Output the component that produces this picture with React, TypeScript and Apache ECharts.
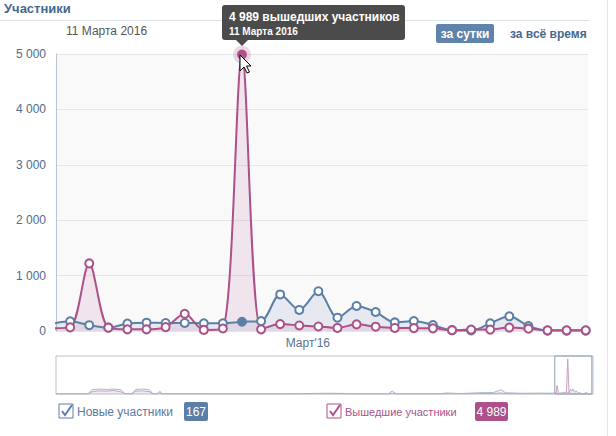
import React, { useEffect, useRef } from "react";
import * as echarts from "echarts";

// Days of March 2016 (day 1 sits just outside the visible window)
const days = [1, 2, 3, 4, 5, 6, 7, 8, 9, 10, 11, 12, 13, 14, 15, 16, 17, 18, 19, 20, 21, 22, 23, 24, 25, 26, 27, 28, 29];
const newMembers = [125, 175, 105, 60, 135, 150, 145, 145, 140, 140, 167, 178, 660, 380, 718, 240, 452, 343, 155, 180, 108, 15, 10, 138, 265, 90, 8, 8, 8];
const leftMembers = [50, 65, 1220, 60, 30, 30, 70, 310, 20, 45, 4989, 30, 125, 100, 82, 55, 120, 78, 55, 52, 48, 15, 25, 25, 62, 42, 12, 12, 12];

// Navigator history (days relative to 1 March 2016)
const navHistDays = [-374, -350, -347, -342, -336, -331, -325, -322, -317, -314, -309, -304, -301, -298, -296, -294, -200, -180, -170, -157, -150, -124, -121, -118, -85, -80, -70, -55, -45, -39, -36, -25, -10, -2, 0];
const navHistNew = [0, 20, 600, 700, 650, 700, 600, 20, 20, 650, 700, 650, 20, 30, 400, 30, 10, 80, 100, 80, 10, 10, 450, 10, 20, 150, 60, 180, 200, 600, 180, 100, 120, 100, 120];
const navHistLeft = [0, 10, 300, 450, 400, 500, 300, 10, 10, 400, 450, 350, 10, 10, 150, 10, 5, 20, 30, 20, 5, 5, 100, 5, 10, 40, 20, 50, 60, 150, 40, 30, 40, 30, 40];

const yTicks = { min: 0, max: 5000, step: 1000 };
const monthLabel = "Март'16";
const monthLabelDay = 14.45;
const hoverDay = 11;
const monthGenitive = "Марта";
const year = 2016;
const viewMin = 1.26;
const viewMax = 29.12;

const BLUE = "#5b7fa6";
const PINK = "#ac5189";
const FONT = 'Tahoma, "Liberation Sans", Arial, sans-serif';

const fmt = (v: number) => String(v).replace(/\B(?=(\d{3})+(?!\d))/g, " ");

export default function App() {
  const ref = useRef<HTMLDivElement>(null);
  useEffect(() => {
    if (!ref.current) return;
    const chart = echarts.init(ref.current, undefined, { renderer: "svg" });
    const hi = days.indexOf(hoverDay);
    const dateStr = `${hoverDay} ${monthGenitive} ${year}`;

    const blueData = days.map((d, i) =>
      i === hi ? { value: [d, newMembers[i]], itemStyle: { color: BLUE } } : [d, newMembers[i]]
    );
    const pinkData = days.map((d, i) =>
      i === hi ? { value: [d, leftMembers[i]], itemStyle: { color: PINK } } : [d, leftMembers[i]]
    );
    const navDays = navHistDays.concat(days);
    const navNew = navHistNew.concat(newMembers);
    const navLeft = navHistLeft.concat(leftMembers);

    const checkbox = (x: number, y: number, color: string) => [
      { type: "rect", shape: { x, y, width: 14, height: 14 }, style: { fill: "#fff", stroke: color, lineWidth: 1 } },
      { type: "polyline", shape: { points: [[x + 3, y + 7], [x + 6, y + 11], [x + 13, y + 1]] }, style: { stroke: color, lineWidth: 2, fill: null } },
    ];

    chart.setOption({
      animation: false,
      textStyle: { fontFamily: FONT },
      grid: [
        { left: 56, top: 54, right: 28, bottom: 105, show: true, backgroundColor: "#f9f9fa", borderWidth: 0 },
        { left: 56, top: 356, right: 23, height: 38, show: true, backgroundColor: "#fff", borderColor: "#b7c2ce", borderWidth: 1 },
      ],
      xAxis: [
        {
          type: "value", gridIndex: 0, min: viewMin, max: viewMax,
          axisLine: { show: false }, axisTick: { show: false }, splitLine: { show: false },
          axisLabel: { customValues: [monthLabelDay], formatter: () => monthLabel, color: "#5b7290", fontSize: 12, margin: 6, fontFamily: FONT },
        },
        { type: "value", gridIndex: 1, min: -374, max: 30, show: false },
      ],
      yAxis: [
        {
          type: "value", gridIndex: 0, min: yTicks.min, max: yTicks.max, interval: yTicks.step,
          axisLine: { show: true, lineStyle: { color: "#b9c4d0" } }, axisTick: { show: false },
          axisLabel: { formatter: (v: number) => fmt(v), color: "#526b88", fontSize: 12, margin: 10, fontFamily: FONT },
          splitLine: { lineStyle: { color: "#e3e6ea" } },
        },
        { type: "value", gridIndex: 1, min: 0, max: 5400, show: false },
      ],
      series: [
        {
          type: "line", xAxisIndex: 0, yAxisIndex: 0, data: blueData, smooth: 0.3,
          symbol: "circle", symbolSize: 8, showAllSymbol: true,
          itemStyle: { color: "#fff", borderColor: BLUE, borderWidth: 2 },
          lineStyle: { color: BLUE, width: 2 },
          areaStyle: { color: "rgba(91,127,166,0.16)" },
        },
        {
          type: "scatter", xAxisIndex: 0, yAxisIndex: 0, data: [[hoverDay, leftMembers[hi]]],
          symbolSize: 18, itemStyle: { color: "rgba(172,81,137,0.28)" }, silent: true,
        },
        {
          type: "line", xAxisIndex: 0, yAxisIndex: 0, data: pinkData, smooth: 0.3,
          symbol: "circle", symbolSize: 8, showAllSymbol: true,
          itemStyle: { color: "#fff", borderColor: PINK, borderWidth: 2 },
          lineStyle: { color: PINK, width: 2 },
          areaStyle: { color: "rgba(172,81,137,0.16)" },
        },
        {
          type: "line", xAxisIndex: 1, yAxisIndex: 1, data: navDays.map((d, i) => [d, navNew[i]]),
          symbol: "none", lineStyle: { color: "#a9b7c8", width: 1 }, areaStyle: { color: "rgba(169,183,200,0.15)" },
        },
        {
          type: "line", xAxisIndex: 1, yAxisIndex: 1, data: navDays.map((d, i) => [d, navLeft[i]]),
          symbol: "none", lineStyle: { color: "#c9a3bd", width: 1 }, areaStyle: { color: "rgba(195,122,168,0.12)" },
          markArea: {
            silent: true,
            itemStyle: { color: "rgba(0,0,0,0)", borderColor: "#8f9fb3", borderWidth: 1 },
            data: [[{ xAxis: viewMin }, { xAxis: viewMax }]],
          },
        },
      ],
      graphic: [
        { type: "line", shape: { x1: 607.5, y1: 0, x2: 607.5, y2: 436 }, style: { stroke: "#e4e6e9", lineWidth: 1 } },
        { type: "line", shape: { x1: 0, y1: 20.5, x2: 590, y2: 20.5 }, style: { stroke: "#dde3ea", lineWidth: 1 } },
        { type: "text", x: 4, y: 8, style: { text: "Участники", font: `bold 13px ${FONT}`, fill: "#45688e", textVerticalAlign: "middle" } },
        { type: "text", x: 66, y: 31, style: { text: dateStr, font: `12px ${FONT}`, fill: "#555", textVerticalAlign: "middle" } },
        { type: "rect", shape: { x: 436, y: 24, width: 58, height: 19, r: 2 }, style: { fill: "#5f83aa" } },
        { type: "text", x: 465, y: 34, style: { text: "за сутки", font: `bold 12px ${FONT}`, fill: "#fff", textAlign: "center", textVerticalAlign: "middle" } },
        { type: "text", x: 510, y: 34, style: { text: "за всё время", font: `bold 12px ${FONT}`, fill: "#45688e", textVerticalAlign: "middle" } },
        // tooltip
        { type: "rect", z: 100, shape: { x: 222, y: 5, width: 183, height: 35, r: 3 }, style: { fill: "#4b4b4b" } },
        { type: "polygon", z: 100, shape: { points: [[236, 40], [248, 40], [242, 46]] }, style: { fill: "#4b4b4b" } },
        { type: "text", z: 101, x: 229, y: 17, style: { text: `${fmt(leftMembers[hi])} вышедших участников`, font: `bold 12px ${FONT}`, fill: "#fff", textVerticalAlign: "middle" } },
        { type: "text", z: 101, x: 229, y: 31, style: { text: dateStr, font: `bold 10px ${FONT}`, fill: "#fff", textVerticalAlign: "middle" } },
        // cursor
        { type: "polygon", z: 120, shape: { points: [[240, 55], [240, 71], [244, 67], [247, 73], [249.5, 72], [246.5, 66], [251, 66]] }, style: { fill: "#fff", stroke: "#000", lineWidth: 1 } },
        // legend
        ...checkbox(59, 404, BLUE),
        { type: "text", x: 77, y: 412, style: { text: "Новые участники", font: `12px ${FONT}`, fill: "#5a7b9e", textVerticalAlign: "middle" } },
        { type: "rect", shape: { x: 184, y: 402, width: 24, height: 19, r: 2 }, style: { fill: BLUE } },
        { type: "text", x: 196, y: 412, style: { text: fmt(newMembers[hi]), font: `12px ${FONT}`, fill: "#fff", textAlign: "center", textVerticalAlign: "middle" } },
        ...checkbox(327, 404, PINK),
        { type: "text", x: 345, y: 412, style: { text: "Вышедшие участники", font: `11px ${FONT}`, fill: PINK, textVerticalAlign: "middle" } },
        { type: "rect", shape: { x: 475, y: 402, width: 33, height: 19, r: 2 }, style: { fill: PINK } },
        { type: "text", x: 491.5, y: 412, style: { text: fmt(leftMembers[hi]), font: `12px ${FONT}`, fill: "#fff", textAlign: "center", textVerticalAlign: "middle" } },
      ],
    });
    return () => chart.dispose();
  }, []);
  return <div ref={ref} style={{ position: "absolute", left: 0, top: 0, width: 616, height: 436, background: "#fff" }} />;
}
